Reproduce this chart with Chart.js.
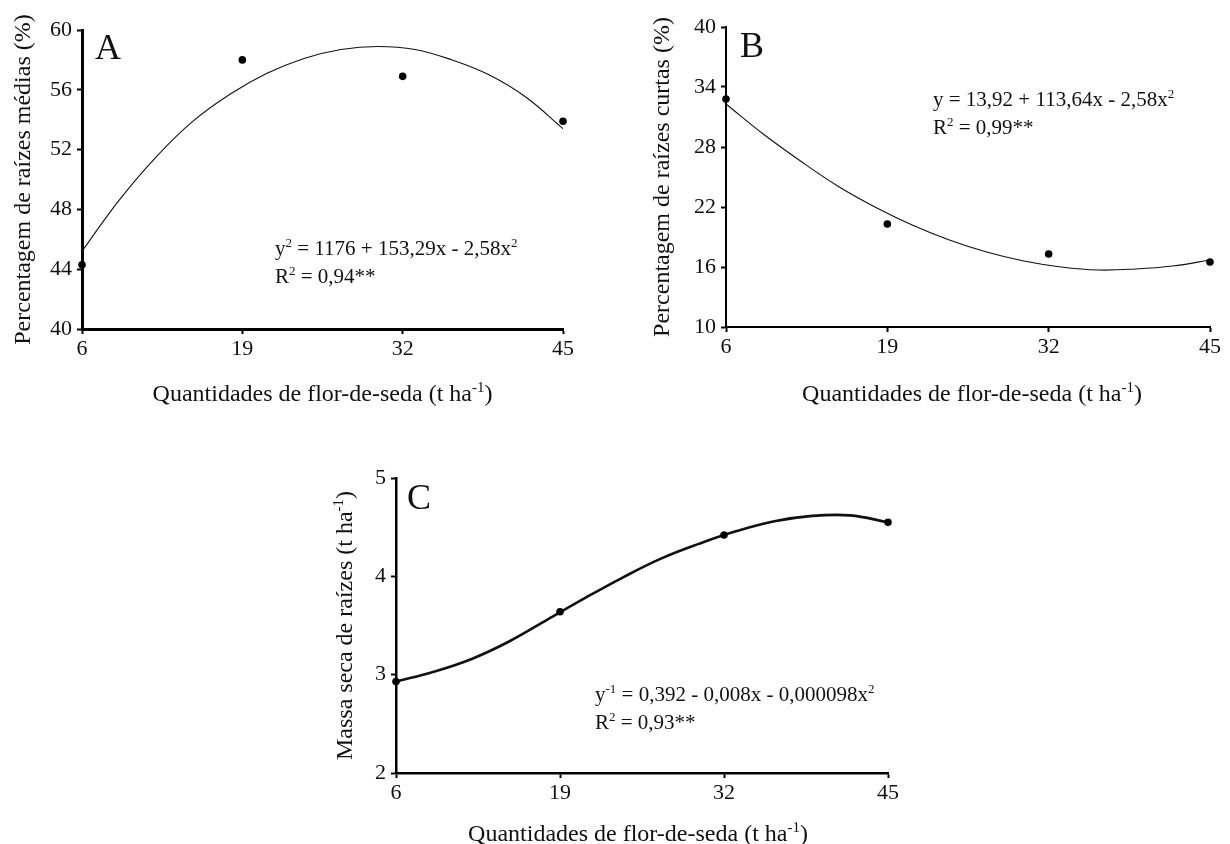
<!DOCTYPE html>
<html>
<head>
<meta charset="utf-8">
<script src="https://cdn.jsdelivr.net/npm/chart.js@4.4.1/dist/chart.umd.min.js"></script>
<style>
  html, body { margin: 0; padding: 0; background: #fff; width: 1230px; height: 844px; overflow: hidden; }
  .box { position: absolute; }
</style>
</head>
<body>
<div class="box" style="left:0px;top:0px;width:615px;height:420px;"><canvas id="cA" width="615" height="420"></canvas></div>
<div class="box" style="left:640px;top:0px;width:590px;height:420px;"><canvas id="cB" width="590" height="420"></canvas></div>
<div class="box" style="left:300px;top:440px;width:640px;height:410px;"><canvas id="cC" width="640" height="410"></canvas></div>
<script>
// ---- data ----
const xTicks = [6, 19, 32, 45];
const doses = [6, 19, 32, 45];
const obsA = [44.3, 58.0, 56.9, 53.9];
const obsB = [32.8, 20.3, 17.3, 16.5];
const obsC = [2.93, 3.64, 4.42, 4.55];

const fitX = [6, 9, 12, 15, 18, 21, 24, 27, 30, 33, 36, 39, 42, 45];
const fitA = [45.2, 48.6, 51.5, 53.9, 55.7, 57.1, 58.1, 58.7, 58.9, 58.7, 58.0, 57.0, 55.5, 53.4];
const fitB = [32.3, 29.3, 26.6, 24.1, 22.0, 20.2, 18.7, 17.5, 16.6, 16.0, 15.7, 15.8, 16.1, 16.7];
const fitC = [2.93, 3.03, 3.16, 3.34, 3.56, 3.78, 3.99, 4.18, 4.33, 4.46, 4.56, 4.615, 4.62, 4.55];

const yTicksA = [40, 44, 48, 52, 56, 60];
const yTicksB = [10, 16, 22, 28, 34, 40];
const yTicksC = [2, 3, 4, 5];

const FONT = "'Liberation Serif', 'Times New Roman', serif";
const INK = '#111';
const TICK_SIZE = 22;
const TITLE_SIZE = 24;
const EQ_SIZE = 21;

function pts(xs, ys) { return xs.map((x, i) => ({ x: x, y: ys[i] })); }

// draw text with superscript parts; parts: array of strings or {sup:'..'}
function richWidth(ctx, parts, size) {
  let w = 0;
  parts.forEach(p => {
    if (typeof p === 'string') { ctx.font = size + 'px ' + FONT; w += ctx.measureText(p).width; }
    else { ctx.font = Math.round(size * 0.62) + 'px ' + FONT; w += ctx.measureText(p.sup).width; }
  });
  return w;
}
function drawRich(ctx, parts, x, y, size, align) {
  const w = richWidth(ctx, parts, size);
  let cx = align === 'center' ? x - w / 2 : x;
  ctx.textBaseline = 'alphabetic';
  ctx.textAlign = 'left';
  ctx.fillStyle = INK;
  parts.forEach(p => {
    if (typeof p === 'string') {
      ctx.font = size + 'px ' + FONT;
      ctx.fillText(p, cx, y);
      cx += ctx.measureText(p).width;
    } else {
      ctx.font = Math.round(size * 0.62) + 'px ' + FONT;
      ctx.fillText(p.sup, cx, y - size * 0.38);
      cx += ctx.measureText(p.sup).width;
    }
  });
}

function makePlugin(cfg) {
  return {
    id: 'annot' + cfg.letter,
    afterDraw(chart) {
      const ctx = chart.ctx;
      const a = chart.chartArea;
      ctx.save();
      // panel letter
      ctx.font = '36px ' + FONT;
      ctx.fillStyle = INK;
      ctx.textBaseline = 'alphabetic';
      ctx.textAlign = 'left';
      ctx.fillText(cfg.letter, a.left + cfg.letterDx, a.top + cfg.letterDy);
      // equation
      drawRich(ctx, cfg.eq1, a.left + cfg.eqDx, a.top + cfg.eqDy, EQ_SIZE, 'left');
      drawRich(ctx, cfg.eq2, a.left + cfg.eqDx, a.top + cfg.eqDy + 28, EQ_SIZE, 'left');
      // x title
      drawRich(ctx, cfg.xTitle, (a.left + a.right) / 2 + cfg.xtDx, a.bottom + cfg.xtDy, TITLE_SIZE, 'center');
      // y title (rotated)
      ctx.translate(a.left + cfg.ytDx, (a.top + a.bottom) / 2);
      ctx.rotate(-Math.PI / 2);
      drawRich(ctx, cfg.yTitle, 0, 0, TITLE_SIZE, 'center');
      ctx.restore();
    }
  };
}

function makeChart(id, cfg) {
  const ctx = document.getElementById(id).getContext('2d');
  return new Chart(ctx, {
    type: 'scatter',
    data: {
      datasets: [
        {
          data: pts(fitX, cfg.fit),
          showLine: true,
          borderColor: '#111',
          borderWidth: cfg.lineW,
          pointRadius: 0,
          tension: 0.4,
          clip: false,
          order: 2
        },
        {
          data: pts(doses, cfg.obs),
          showLine: false,
          pointRadius: 3.8,
          pointBackgroundColor: '#000',
          pointBorderColor: '#000',
          pointBorderWidth: 0,
          clip: false,
          order: 1
        }
      ]
    },
    options: {
      responsive: false,
      animation: false,
      devicePixelRatio: 1,
      layout: { padding: cfg.pad },
      plugins: { legend: { display: false }, tooltip: { enabled: false } },
      scales: {
        x: {
          type: 'linear',
          min: 6, max: 45,
          afterBuildTicks: s => { s.ticks = xTicks.map(v => ({ value: v })); },
          afterFit: s => { s.height = cfg.xH; },
          border: { display: true, color: '#000', width: cfg.axisW },
          grid: { display: true, drawOnChartArea: false, drawTicks: true, tickLength: 5, tickColor: '#000', tickWidth: 2, color: '#000' },
          ticks: { color: INK, font: { family: FONT, size: TICK_SIZE }, padding: 2, maxRotation: 0 }
        },
        y: {
          type: 'linear',
          min: cfg.yTicks[0], max: cfg.yTicks[cfg.yTicks.length - 1],
          afterBuildTicks: s => { s.ticks = cfg.yTicks.map(v => ({ value: v })); },
          afterFit: s => { s.width = cfg.yW; },
          border: { display: true, color: '#000', width: cfg.axisW },
          grid: { display: true, drawOnChartArea: false, drawTicks: true, tickLength: 5, tickColor: '#000', tickWidth: 2, color: '#000' },
          ticks: { color: INK, font: { family: FONT, size: TICK_SIZE }, padding: 5 }
        }
      }
    },
    plugins: [makePlugin(cfg)]
  });
}

const TITLE_X = ['Quantidades de flor-de-seda (t ha', { sup: '-1' }, ')'];

makeChart('cA', {
  letter: 'A', letterDx: 13, letterDy: 29,
  fit: fitA, obs: obsA, yTicks: yTicksA, lineW: 1.1, axisW: 3,
  pad: { top: 30, right: 52, bottom: 0, left: 0 }, yW: 82, xH: 91,
  eq1: ['y', { sup: '2' }, ' = 1176 + 153,29x - 2,58x', { sup: '2' }],
  eq2: ['R', { sup: '2' }, ' = 0,94**'],
  eqDx: 193, eqDy: 225,
  xTitle: TITLE_X, xtDx: 0, xtDy: 72,
  yTitle: ['Percentagem de raízes médias (%)'], ytDx: -52
});

makeChart('cB', {
  letter: 'B', letterDx: 14, letterDy: 30,
  fit: fitB, obs: obsB, yTicks: yTicksB, lineW: 1.1, axisW: 2,
  pad: { top: 27, right: 20, bottom: 0, left: 0 }, yW: 86, xH: 93,
  eq1: ['y = 13,92 + 113,64x - 2,58x', { sup: '2' }],
  eq2: ['R', { sup: '2' }, ' = 0,99**'],
  eqDx: 207, eqDy: 79,
  xTitle: TITLE_X, xtDx: 4, xtDy: 74,
  yTitle: ['Percentagem de raízes curtas (%)'], ytDx: -57
});

makeChart('cC', {
  letter: 'C', letterDx: 11, letterDy: 31,
  fit: fitC, obs: obsC, yTicks: yTicksC, lineW: 2.6, axisW: 2.5,
  pad: { top: 38, right: 52, bottom: 0, left: 0 }, yW: 96, xH: 77,
  eq1: ['y', { sup: '-1' }, ' = 0,392 - 0,008x - 0,000098x', { sup: '2' }],
  eq2: ['R', { sup: '2' }, ' = 0,93**'],
  eqDx: 199, eqDy: 223,
  xTitle: TITLE_X, xtDx: -4, xtDy: 68,
  yTitle: ['Massa seca de raízes (t ha', { sup: '-1' }, ')'], ytDx: -44
});
</script>
</body>
</html>
